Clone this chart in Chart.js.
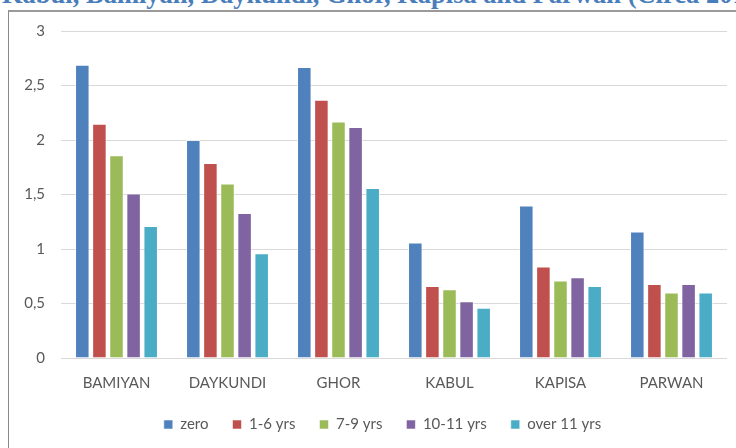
<!DOCTYPE html>
<html>
<head>
<meta charset="utf-8">
<script src="https://cdn.jsdelivr.net/npm/chart.js@4/dist/chart.umd.min.js"></script>
<style>
  html, body { margin: 0; padding: 0; background: #fff; }
  body { width: 736px; height: 448px; overflow: hidden; position: relative; }
  #title { position: absolute; left: 2px; top: -21px; white-space: nowrap;
    font-family: "Liberation Serif", "Times New Roman", serif; font-weight: bold;
    font-size: 26.5px; line-height: 30px; color: #4a7ebb; }
  #frame { position: absolute; left: 8px; top: 10px; width: 760px; height: 460px;
    border-left: 1px solid #8a8a8a; border-top: 2px solid #9a9a9a; box-sizing: border-box; }
  #wrap { position: absolute; left: 0; top: 0; width: 736px; height: 448px; }
</style>
</head>
<body>
<div id="title">Kabul, Bamiyan, Daykundi, Ghor, Kapisa and Parwan (Circa 2013)</div>
<div id="frame"></div>
<div id="wrap"><canvas id="c"></canvas></div>
<script>
const categories = ['BAMIYAN', 'DAYKUNDI', 'GHOR', 'KABUL', 'KAPISA', 'PARWAN'];
const seriesNames = ['zero', '1-6 yrs', '7-9 yrs', '10-11 yrs', 'over 11 yrs'];
const zero     = [2.69, 2.00, 2.67, 1.06, 1.40, 1.16];
const yrs1to6  = [2.15, 1.79, 2.37, 0.66, 0.84, 0.68];
const yrs7to9  = [1.86, 1.60, 2.17, 0.63, 0.71, 0.60];
const yrs10to11= [1.51, 1.33, 2.12, 0.52, 0.74, 0.68];
const over11   = [1.21, 0.96, 1.56, 0.46, 0.66, 0.60];
const yTickLabels = ['0', '0,5', '1', '1,5', '2', '2,5', '3'];
const colors = ['#4f81bd', '#c0504d', '#9bbb59', '#8064a2', '#4bacc6'];

const seriesValues = [zero, yrs1to6, yrs7to9, yrs10to11, over11];
const datasets = seriesValues.map((vals, i) => ({
  label: seriesNames[i],
  data: vals,
  backgroundColor: colors[i],
  borderColor: 'rgba(255,255,255,0.55)',
  borderWidth: 1,
  categoryPercentage: 0.77,
  barPercentage: 0.85
}));

const shiftLegend = {
  id: 'shiftLegend',
  beforeDraw(chart) {
    if (chart.legend) { chart.legend.left = 38; }
  }
};

const fontFam = 'Lato, "Liberation Sans", sans-serif';
new Chart(document.getElementById('c'), {
  type: 'bar',
  data: { labels: categories, datasets },
  plugins: [shiftLegend],
  options: {
    responsive: true,
    maintainAspectRatio: false,
    animation: false,
    layout: { padding: { left: 0, right: 9, top: 31, bottom: 6 } },
    plugins: {
      legend: {
        position: 'bottom',
        labels: { boxWidth: 9, boxHeight: 9, padding: 24, color: '#595959',
          font: { family: fontFam, size: 15 } }
      },
      tooltip: { enabled: false }
    },
    scales: {
      x: {
        grid: { display: false, drawTicks: false },
        border: { display: false },
        ticks: { color: '#595959', padding: 16, font: { family: fontFam, size: 15 } },
        afterFit: s => { s.height = 35; }
      },
      y: {
        min: 0, max: 3,
        grid: { color: '#d9d9d9', drawTicks: false },
        border: { display: false },
        ticks: { stepSize: 0.5, color: '#595959', padding: 16,
          font: { family: fontFam, size: 15 },
          callback: (v, i) => yTickLabels[i] },
        afterFit: s => { s.width = 61; }
      }
    }
  }
});
</script>
</body>
</html>
